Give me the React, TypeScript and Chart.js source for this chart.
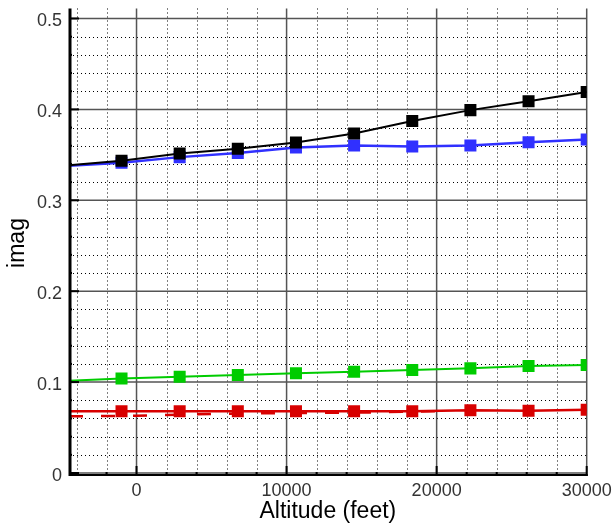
import React, { useEffect, useRef } from "react";
import { Chart, registerables } from "chart.js";

Chart.register(...registerables);

// Altitudes (feet) of the line vertices; first entry is the left edge of the plot
const altitudes = [-4500, -1000, 2875, 6750, 10625, 14500, 18375, 22250, 26125, 30000];
const blackSeries = [0.3385, 0.3434, 0.3515, 0.3568, 0.3636, 0.3736, 0.3873, 0.3992, 0.409, 0.4192];
const blueSeries = [0.338, 0.3413, 0.3475, 0.352, 0.358, 0.3603, 0.3593, 0.3602, 0.3638, 0.3669];
const greenSeries = [0.1016, 0.104, 0.106, 0.1078, 0.1097, 0.1115, 0.1133, 0.1151, 0.1176, 0.1187];
const redSeries = [0.068, 0.068, 0.068, 0.0679, 0.0679, 0.0679, 0.0679, 0.069, 0.0686, 0.0697];
const redDashAltitudes = [-4500, 0, 5000, 10000, 15000, 20000];
const redDashSeries = [0.0624, 0.063, 0.065, 0.066, 0.0665, 0.068];

const xTickValues = [0, 10000, 20000, 30000];
const xTickLabels = ["0", "10000", "20000", "30000"];
const yTickValues = [0, 0.1, 0.2, 0.3, 0.4, 0.5];
const yTickLabels = ["0", "0.1", "0.2", "0.3", "0.4", "0.5"];

const X_MIN = -4500;
const X_MAX = 30000;
const Y_MIN = -0.0033;
const Y_MAX = 0.511;

const FONT = "'Liberation Sans', Arial, Helvetica, sans-serif";

function pts(xs: number[], ys: number[]) {
  return xs.map((x, i) => ({ x, y: ys[i] }));
}

const markerRadius = altitudes.map((_, i) => (i === 0 ? 0 : 8.5));

const gridPlugin = {
  id: "customGrid",
  beforeDatasetsDraw(chart: any) {
    const { ctx, chartArea } = chart;
    const xs = chart.scales.x;
    const ys = chart.scales.y;
    ctx.save();
    // minor dotted x
    ctx.strokeStyle = "#000";
    ctx.lineWidth = 1;
    ctx.setLineDash([1, 3]);
    for (let v = -4000; v <= 30000; v += 2000) {
      if (v % 10000 === 0) continue;
      const px = Math.round(xs.getPixelForValue(v)) + 0.5;
      ctx.beginPath();
      ctx.moveTo(px, chartArea.top);
      ctx.lineTo(px, chartArea.bottom);
      ctx.stroke();
    }
    for (let k = 1; k <= 25; k++) {
      if (k % 5 === 0) continue;
      const py = Math.round(ys.getPixelForValue(k * 0.02)) + 0.5;
      ctx.beginPath();
      ctx.moveTo(chartArea.left, py);
      ctx.lineTo(chartArea.right, py);
      ctx.stroke();
    }
    // major solid
    ctx.setLineDash([]);
    ctx.strokeStyle = "#555";
    ctx.lineWidth = 1.5;
    xTickValues.forEach((v) => {
      const px = xs.getPixelForValue(v);
      ctx.beginPath();
      ctx.moveTo(px, chartArea.top);
      ctx.lineTo(px, chartArea.bottom);
      ctx.stroke();
    });
    yTickValues.forEach((v) => {
      const py = ys.getPixelForValue(v);
      ctx.beginPath();
      ctx.moveTo(chartArea.left, py);
      ctx.lineTo(chartArea.right, py);
      ctx.stroke();
    });
    ctx.restore();
  },
  afterDatasetsDraw(chart: any) {
    const { ctx, chartArea } = chart;
    const xs = chart.scales.x;
    const ys = chart.scales.y;
    ctx.save();
    ctx.strokeStyle = "#000";
    // axes
    ctx.lineWidth = 3;
    ctx.beginPath();
    ctx.moveTo(chartArea.left + 1, chartArea.top);
    ctx.lineTo(chartArea.left + 1, chartArea.bottom);
    ctx.stroke();
    ctx.lineWidth = 2;
    ctx.beginPath();
    ctx.moveTo(chartArea.left, chartArea.bottom - 1);
    ctx.lineTo(chartArea.right + 1, chartArea.bottom - 1);
    ctx.stroke();
    // y ticks
    ctx.lineWidth = 2;
    for (let k = 0; k <= 25; k++) {
      const py = ys.getPixelForValue(k * 0.02);
      const len = k % 5 === 0 ? 10 : 3;
      ctx.beginPath();
      ctx.moveTo(chartArea.left, py);
      ctx.lineTo(chartArea.left + len, py);
      ctx.stroke();
    }
    // x ticks
    for (let v = -4000; v <= 30000; v += 2000) {
      const px = xs.getPixelForValue(v);
      const len = v % 10000 === 0 ? 10 : 4;
      ctx.beginPath();
      ctx.moveTo(px, chartArea.bottom);
      ctx.lineTo(px, chartArea.bottom - len);
      ctx.stroke();
    }
    // tick labels
    ctx.fillStyle = "#333";
    ctx.font = `18px ${FONT}`;
    ctx.textBaseline = "alphabetic";
    ctx.textAlign = "right";
    yTickValues.forEach((v, i) => {
      ctx.fillText(yTickLabels[i], 62, ys.getPixelForValue(v) + 7.5);
    });
    ctx.textAlign = "center";
    xTickValues.forEach((v, i) => {
      ctx.fillText(xTickLabels[i], xs.getPixelForValue(v), 496);
    });
    // axis titles
    ctx.fillStyle = "#000";
    ctx.font = `23px ${FONT}`;
    ctx.textAlign = "center";
    ctx.fillText("Altitude (feet)", (chartArea.left + chartArea.right) / 2, 518);
    ctx.translate(24, 243);
    ctx.rotate(-Math.PI / 2);
    ctx.fillText("imag", 0, 0);
    ctx.restore();
  },
};

export default function App() {
  const canvasRef = useRef<HTMLCanvasElement | null>(null);

  useEffect(() => {
    document.body.style.margin = "0";
    const canvas = canvasRef.current;
    if (!canvas) return;
    const lineDs = (label: string, ys: number[], color: string, width: number) => ({
      label,
      data: pts(altitudes, ys),
      borderColor: color,
      backgroundColor: color,
      borderWidth: width,
      pointStyle: "rect" as const,
      pointRadius: markerRadius,
      pointBorderWidth: 0,
      pointBackgroundColor: color,
      tension: 0,
    });
    const chart = new Chart(canvas, {
      type: "line",
      data: {
        datasets: [
          lineDs("black", blackSeries, "#000000", 2),
          lineDs("blue", blueSeries, "#3030ff", 2.5),
          lineDs("green", greenSeries, "#00cc00", 2),
          lineDs("red", redSeries, "#d80000", 2.5),
          {
            label: "red dashed",
            data: pts(redDashAltitudes, redDashSeries),
            borderColor: "#d80000",
            borderWidth: 2.5,
            borderDash: [14, 18],
            pointRadius: 0,
            tension: 0,
          },
        ],
      },
      options: {
        responsive: false,
        animation: false,
        layout: { padding: { top: 5, right: 27.3, left: 0, bottom: 0 } },
        plugins: { legend: { display: false }, tooltip: { enabled: false } },
        scales: {
          x: {
            type: "linear",
            min: X_MIN,
            max: X_MAX,
            grid: { display: false },
            border: { display: false },
            ticks: { display: false },
            afterFit: (s: any) => {
              s.height = 47;
            },
          },
          y: {
            type: "linear",
            min: Y_MIN,
            max: Y_MAX,
            grid: { display: false },
            border: { display: false },
            ticks: { display: false },
            afterFit: (s: any) => {
              s.width = 69;
            },
          },
        },
      },
      plugins: [gridPlugin],
    });
    return () => chart.destroy();
  }, []);

  return (
    <div style={{ position: "fixed", left: 0, top: 0, width: 614, height: 523, background: "#fff" }}>
      <canvas ref={canvasRef} width={614} height={523} />
    </div>
  );
}
